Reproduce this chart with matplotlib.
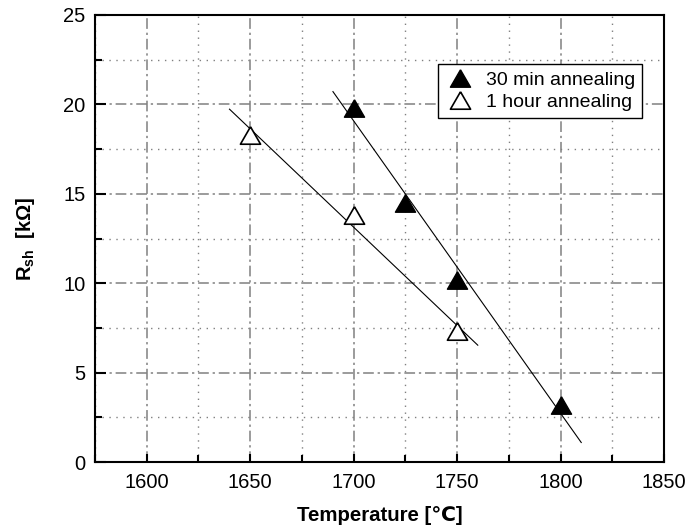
import matplotlib as mp
mp.use("Agg")
import matplotlib.pyplot as plt
import numpy as np
from matplotlib.ticker import MultipleLocator

plt.rcParams['font.family'] = ['Liberation Sans', 'DejaVu Sans']
plt.rcParams['mathtext.fontset'] = 'custom'
plt.rcParams['mathtext.rm'] = 'Liberation Sans'
plt.rcParams['mathtext.bf'] = 'Liberation Sans:bold'

# data
temp_30min = [1700, 1725, 1750, 1800]
rsh_30min = [19.8, 14.5, 10.2, 3.2]
temp_1hour = [1650, 1700, 1750]
rsh_1hour = [18.3, 13.8, 7.3]

# x-range over which each fit line is drawn
fit_range_30min = [1690, 1810]
fit_range_1hour = [1640, 1760]

labels = ["30 min annealing", "1 hour annealing"]

# equilateral triangle marker
tri = [(0, 0.866), (-1, -0.866), (1, -0.866), (0, 0.866)]

fig = plt.figure(figsize=(6.88, 5.28), dpi=100)
ax = fig.add_axes([95 / 688, 1 - 462 / 528, (664 - 95) / 688, (462 - 15) / 528])

# fit lines
for xs, ys, rng in [(temp_30min, rsh_30min, fit_range_30min),
                    (temp_1hour, rsh_1hour, fit_range_1hour)]:
    k, b = np.polyfit(xs, ys, 1)
    xx = np.array(rng)
    ax.plot(xx, k * xx + b, color="black", linewidth=0.8, zorder=3)

ax.plot(temp_30min, rsh_30min, linestyle="none", marker=tri, markersize=14.5,
        markerfacecolor="black", markeredgecolor="black", markeredgewidth=1.0,
        label=labels[0], zorder=4)
ax.plot(temp_1hour, rsh_1hour, linestyle="none", marker=tri, markersize=14.5,
        markerfacecolor="white", markeredgecolor="black", markeredgewidth=1.2,
        label=labels[1], zorder=4)

ax.set_xlim(1575, 1850)
ax.set_ylim(0, 25)
ax.xaxis.set_major_locator(MultipleLocator(50))
ax.xaxis.set_minor_locator(MultipleLocator(25))
ax.yaxis.set_major_locator(MultipleLocator(5))
ax.yaxis.set_minor_locator(MultipleLocator(2.5))

ax.grid(which="major", color="#808080", linewidth=1.1,
        linestyle=(0, (7, 2.5, 1.5, 2.5)))
ax.grid(which="minor", color="#808080", linewidth=1.0,
        linestyle=(0, (1, 4)))
ax.set_axisbelow(True)

ax.tick_params(which="both", direction="in", top=False, right=False,
               labelsize=14.5, width=1.5)
ax.tick_params(axis="x", which="major", length=6, pad=8)
ax.tick_params(axis="x", which="minor", length=5)
ax.tick_params(axis="y", which="major", length=8, pad=7)
ax.tick_params(axis="y", which="minor", length=5)
for s in ax.spines.values():
    s.set_linewidth(1.5)

ax.set_xlabel("Temperature [℃]", fontsize=14.7, fontweight="bold", labelpad=10)
ax.set_ylabel(r"$\mathbf{R_{sh}}$  [kΩ]", fontsize=14.5, fontweight="bold", labelpad=19)

leg = ax.legend(loc="upper right", bbox_to_anchor=(0.961, 0.890), borderaxespad=0,
                fancybox=False, edgecolor="black", framealpha=1, fontsize=14,
                handletextpad=0.5, labelspacing=0.25, borderpad=0.35,
                handlelength=1.6)
leg.get_frame().set_linewidth(1.0)

fig.savefig("out.png", dpi=100)
